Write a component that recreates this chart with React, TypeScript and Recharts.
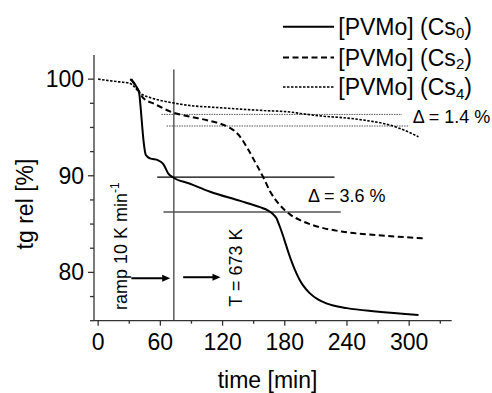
import React from 'react';
import { LineChart, Line, XAxis, YAxis, ReferenceLine } from 'recharts';

// ---- data (time in min, relative mass in %) ----
const cs0Time = [31, 37, 39.6, 41.2, 42.5, 44, 46, 50, 58, 62, 64, 67.5, 72, 88, 108, 137, 156, 164, 168, 172, 175, 178, 181, 184, 187, 190, 194, 198, 204, 212, 220, 240, 268, 309];
const cs0Value = [100, 99.2, 98.5, 96.8, 95.1, 93.4, 92.15, 91.8, 91.6, 91.3, 91.0, 90.25, 89.85, 89.2, 88.35, 87.4, 86.75, 86.4, 86.1, 85.6, 84.8, 83.9, 82.9, 81.9, 81.0, 80.2, 79.3, 78.6, 77.85, 77.2, 76.8, 76.3, 75.95, 75.6];

const cs2Time = [32, 35, 38.6, 43, 55, 72, 90, 105, 117, 127, 132, 137, 145, 153, 159, 166, 175, 185, 197, 212, 236, 268, 313];
const cs2Value = [100, 99.5, 98.9, 98.1, 97.4, 96.55, 96.1, 95.75, 95.42, 94.96, 94.6, 94.03, 92.66, 91.1, 89.9, 88.35, 87.0, 86.0, 85.3, 84.73, 84.21, 83.87, 83.53];

const cs4Time = [0, 10, 20, 30, 35, 40, 50, 60, 72, 90, 110, 137, 160, 185, 195, 214, 243, 260, 275, 291, 300, 309];
const cs4Value = [100, 99.85, 99.72, 99.6, 99.2, 98.6, 98.1, 97.8, 97.55, 97.25, 97.1, 96.9, 96.75, 96.6, 96.45, 96.2, 95.94, 95.7, 95.42, 94.9, 94.5, 94.03];

const seriesNames = ['[PVMo] (Cs', '[PVMo] (Cs', '[PVMo] (Cs'];
const seriesSubs = ['0', '2', '4'];

const xTicks = [0, 30, 60, 90, 120, 150, 180, 210, 240, 270, 300, 330];
const xLabels = [0, 60, 120, 180, 240, 300];
const yTicks = [75, 77.5, 80, 82.5, 85, 87.5, 90, 92.5, 95, 97.5, 100];
const yLabels = [80, 90, 100];

// annotation values
const rampTime = 73;
const level1 = 89.85;
const level2 = 86.25;
const level3 = 96.35;
const level4 = 95.15;

const FONT = '"Liberation Sans", Arial, Helvetica, sans-serif';
const AXIS = '#333';

const toData = (t: number[], v: number[]) => t.map((x, i) => ({ t: x, v: v[i] }));
const cs0Data = toData(cs0Time, cs0Value);
const cs2Data = toData(cs2Time, cs2Value);
const cs4Data = toData(cs4Time, cs4Value);

const XTick = (props: any) => {
  const { x, y, payload } = props;
  const major = xLabels.includes(payload.value);
  return (
    <g>
      <line x1={x} x2={x} y1={y} y2={y + (major ? 5 : 3)} stroke={AXIS} strokeWidth={1.3} />
      {major && (
        <text x={x} y={y + 29.3} textAnchor="middle" fontSize={23} fontFamily={FONT} fill="#000">
          {payload.value}
        </text>
      )}
    </g>
  );
};

const YTick = (props: any) => {
  const { x, y, payload } = props;
  const major = yLabels.includes(payload.value);
  return (
    <g>
      <line x1={x} x2={x - (major ? 6 : 4)} y1={y} y2={y} stroke={AXIS} strokeWidth={1.3} />
      {major && (
        <text x={x - 10} y={y + 8} textAnchor="end" fontSize={23} fontFamily={FONT} fill="#000">
          {payload.value}
        </text>
      )}
    </g>
  );
};

const Arrow = (props: any) => {
  const { x1, y1, x2, y2 } = props;
  const head = 8;
  return (
    <g>
      <line x1={x1} y1={y1} x2={x2 - head + 1} y2={y2} stroke="#000" strokeWidth={2} />
      <polygon points={`${x2},${y2} ${x2 - head},${y2 - 3.5} ${x2 - head},${y2 + 3.5}`} fill="#000" />
    </g>
  );
};

const legendStyles = [
  { dash: undefined, width: 2 },
  { dash: '6 3.5', width: 2 },
  { dash: '2.5 1.5', width: 1.6 },
];
const legendY = [26.7, 57.5, 87];

export default function App() {
  return (
    <div style={{ position: 'absolute', left: 0, top: 0, width: 492, height: 393, background: '#fff' }}>
      <LineChart width={492} height={393} margin={{ top: 55, right: 40.3, bottom: 0, left: 0 }}>
        <XAxis
          type="number"
          dataKey="t"
          domain={[-4, 341]}
          ticks={xTicks}
          interval={0}
          allowDataOverflow
          height={72.3}
          tickSize={0}
          tickMargin={0}
          tickLine={false}
          axisLine={{ stroke: AXIS, strokeWidth: 1.3 }}
          tick={<XTick />}
        />
        <YAxis
          type="number"
          domain={[75, 102.5]}
          ticks={yTicks}
          interval={0}
          allowDataOverflow
          width={94}
          tickSize={0}
          tickMargin={0}
          tickLine={false}
          axisLine={{ stroke: AXIS, strokeWidth: 1.3 }}
          tick={<YTick />}
        />
        <ReferenceLine segment={[{ x: rampTime, y: 75 }, { x: rampTime, y: 101 }]} stroke="#444" strokeWidth={1.3} />
        <ReferenceLine segment={[{ x: 57, y: level1 }, { x: 228, y: level1 }]} stroke="#000" strokeWidth={1.3} />
        <ReferenceLine segment={[{ x: 63, y: level2 }, { x: 234, y: level2 }]} stroke="#555" strokeWidth={1.5} />
        <ReferenceLine segment={[{ x: 61, y: level3 }, { x: 293, y: level3 }]} stroke="#555" strokeWidth={1} strokeDasharray="1.5 1" />
        <ReferenceLine segment={[{ x: 66, y: level4 }, { x: 300, y: level4 }]} stroke="#555" strokeWidth={1} strokeDasharray="1.5 1" />
        <ReferenceLine segment={[{ x: 32, y: 79.4 }, { x: 69.5, y: 79.4 }]} shape={<Arrow />} />
        <ReferenceLine segment={[{ x: 82, y: 79.5 }, { x: 118, y: 79.5 }]} shape={<Arrow />} />
        <Line data={cs4Data} dataKey="v" type="monotone" stroke="#000" strokeWidth={1.6} strokeDasharray="2.5 1.5" dot={false} isAnimationActive={false} />
        <Line data={cs2Data} dataKey="v" type="monotone" stroke="#000" strokeWidth={2} strokeDasharray="6 3.5" dot={false} isAnimationActive={false} />
        <Line data={cs0Data} dataKey="v" type="monotone" stroke="#000" strokeWidth={2} dot={false} isAnimationActive={false} />

        {/* axis titles */}
        <text x={267.5} y={388} textAnchor="middle" fontSize={23} fontFamily={FONT} fill="#000">time [min]</text>
        <text transform="translate(33,204) rotate(-90)" textAnchor="middle" fontSize={23} fontFamily={FONT} fill="#000">tg rel [%]</text>

        {/* annotations */}
        <text transform="translate(127,310) rotate(-90)" fontSize={18} fontFamily={FONT} fill="#000">
          ramp 10 K min<tspan fontSize={12} dy={-8}>-1</tspan>
        </text>
        <text transform="translate(241.5,306.7) rotate(-90)" fontSize={18} fontFamily={FONT} fill="#000">T = 673 K</text>
        <text x={308} y={201.7} fontSize={18} fontFamily={FONT} fill="#000">Δ = 3.6 %</text>
        <text x={412.7} y={123.3} fontSize={18} fontFamily={FONT} fill="#000">Δ = 1.4 %</text>

        {/* legend */}
        {seriesNames.map((name, i) => (
          <g key={i}>
            <line x1={283} x2={334} y1={legendY[i]} y2={legendY[i]} stroke="#000" strokeWidth={legendStyles[i].width} strokeDasharray={legendStyles[i].dash} />
            <text x={338.3} y={legendY[i] + 8.2} fontSize={23} fontFamily={FONT} fill="#000">
              {name}
              <tspan fontSize={15} dy={3.5}>{seriesSubs[i]}</tspan>
              <tspan dy={-3.5}>)</tspan>
            </text>
          </g>
        ))}
      </LineChart>
    </div>
  );
}
